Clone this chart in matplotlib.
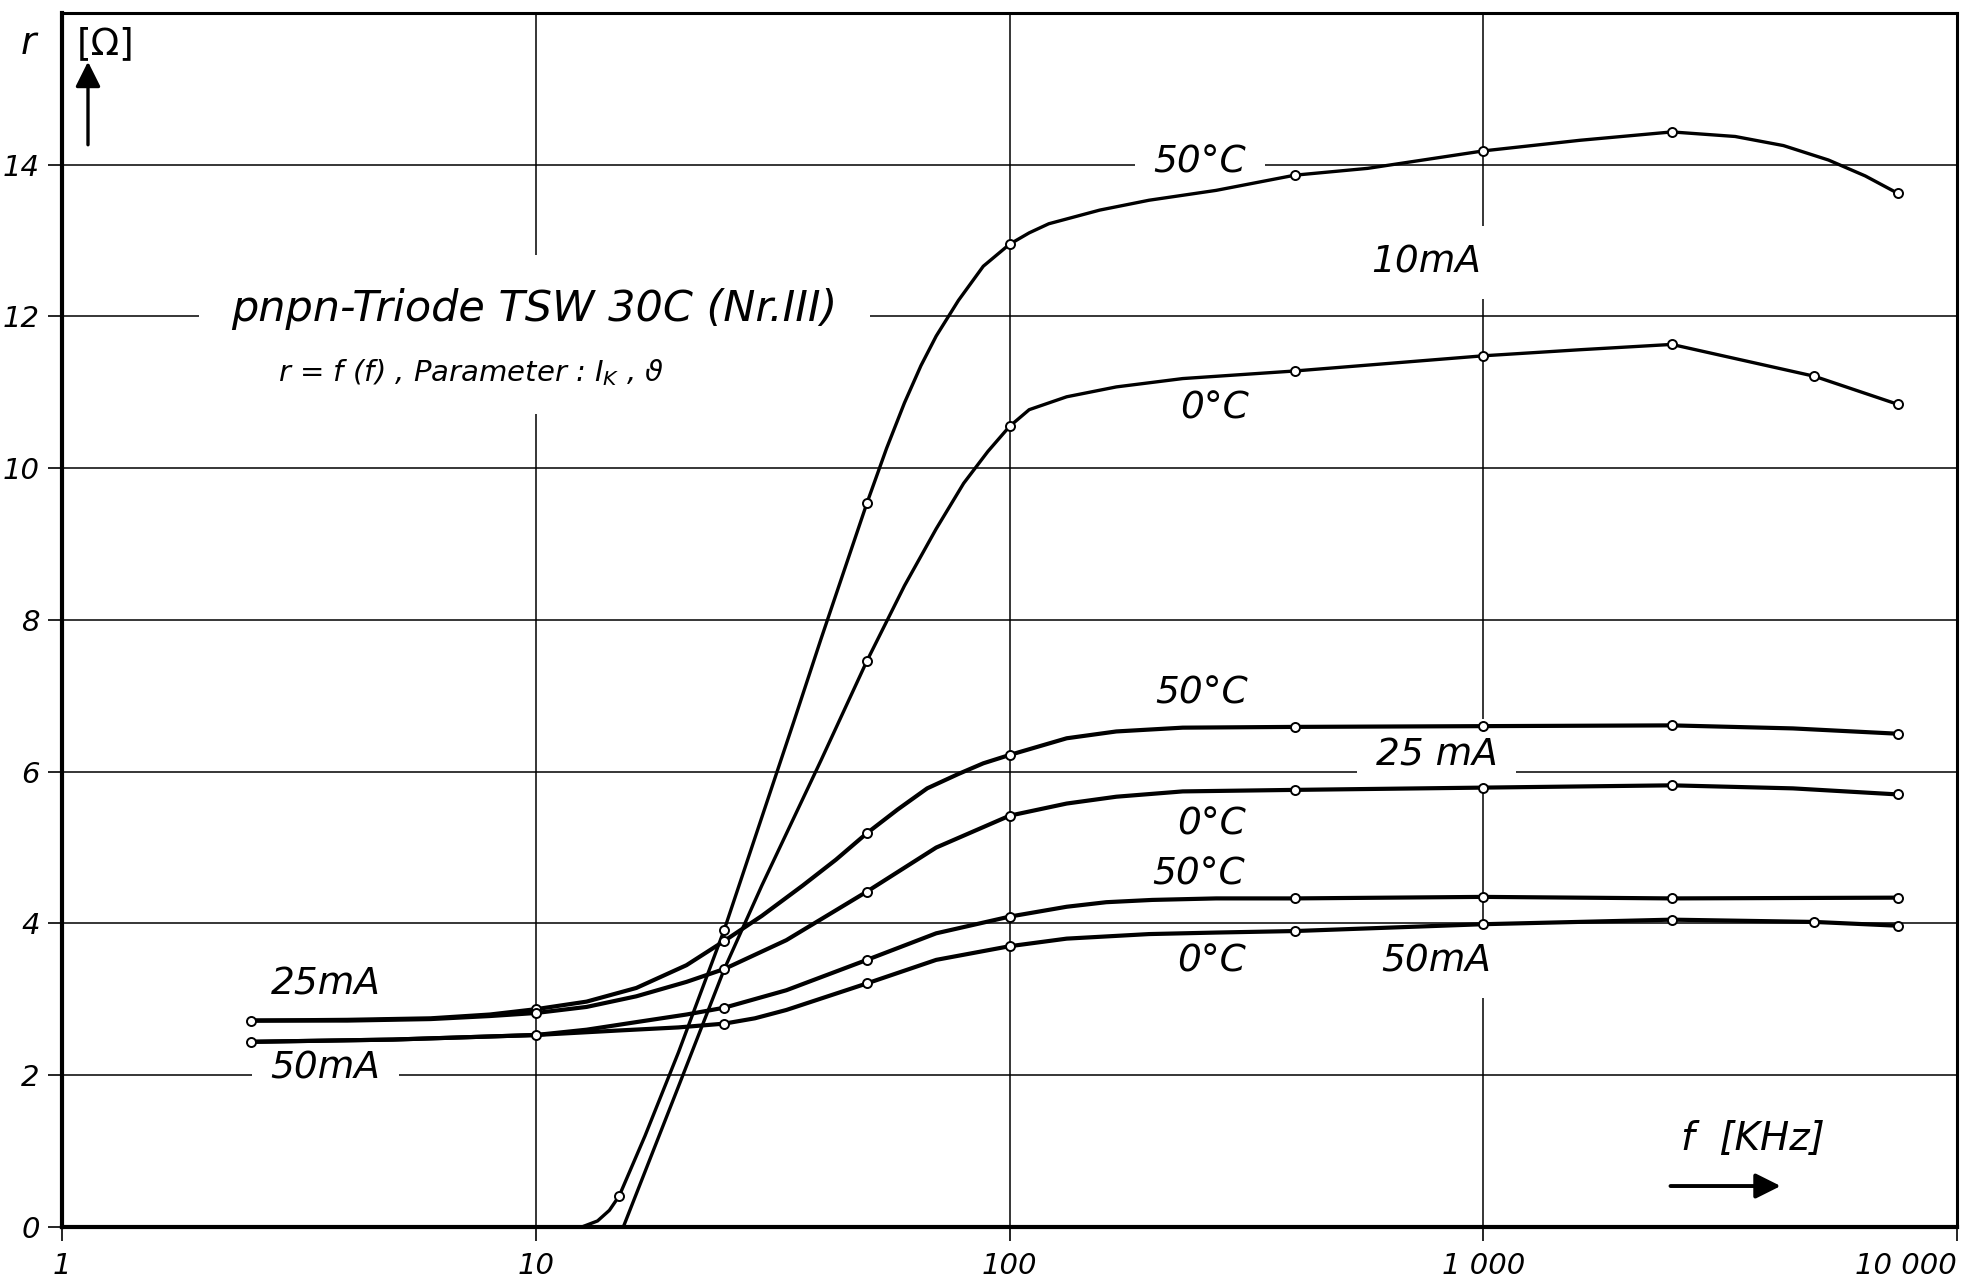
import matplotlib
matplotlib.use('Agg')
import matplotlib.pyplot as plt

# r = f(f) fuer pnpn-Triode TSW 30C, Parameter I_K und Temperatur
# Werte (f in kHz, r in Ohm)

f_10_50 = [12.5, 13.5, 14.3, 15, 17, 20, 25, 30, 35, 40, 50, 55, 60, 65, 70, 78, 88,
           100, 110, 121, 155, 197, 273, 400, 570, 1000, 1600, 2500, 3400, 4300, 5350, 6400, 7500]
r_10_50 = [0, 0.08, 0.22, 0.41, 1.2, 2.3, 3.92, 5.4, 6.65, 7.75, 9.54, 10.26, 10.86, 11.35, 11.74, 12.21, 12.66,
           12.95, 13.1, 13.22, 13.4, 13.53, 13.66, 13.86, 13.95, 14.18, 14.32, 14.43, 14.37, 14.25, 14.06, 13.85, 13.62]

f_10_0 = [15.3, 20, 25, 30, 40, 50, 60, 70, 80, 90, 100, 110, 132, 168, 232, 400, 1000, 1600, 2500, 5000, 7500]
r_10_0 = [0, 1.85, 3.4, 4.5, 6.15, 7.46, 8.45, 9.2, 9.8, 10.22, 10.55, 10.77, 10.94, 11.07, 11.18, 11.28,
          11.48, 11.56, 11.63, 11.21, 10.84]

f_25_50 = [2.5, 4, 6, 8, 10, 12.8, 16.3, 20.8, 25, 30, 36.6, 43, 50, 58, 67, 78, 88, 100, 132, 168, 232,
           400, 1000, 2500, 4500, 7500]
r_25_50 = [2.72, 2.73, 2.75, 2.8, 2.87, 2.97, 3.15, 3.45, 3.77, 4.1, 4.5, 4.84, 5.19, 5.5, 5.78, 5.97, 6.11,
           6.22, 6.44, 6.53, 6.58, 6.59, 6.6, 6.61, 6.57, 6.5]

f_25_0 = [2.5, 4, 6, 8, 10, 12.8, 16.3, 20.8, 25, 33.8, 50, 70, 100, 132, 168, 232, 400, 1000, 2500, 4500, 7500]
r_25_0 = [2.72, 2.72, 2.74, 2.78, 2.82, 2.9, 3.04, 3.23, 3.4, 3.78, 4.42, 5.0, 5.42, 5.58, 5.67, 5.74,
          5.76, 5.79, 5.82, 5.78, 5.7]

f_50_50 = [2.5, 5, 10, 12.8, 16.3, 20.8, 25, 33.8, 50, 70, 100, 132, 160, 200, 273, 400, 1000, 2500, 7500]
r_50_50 = [2.44, 2.47, 2.53, 2.6, 2.7, 2.8, 2.89, 3.12, 3.52, 3.87, 4.09, 4.22, 4.28, 4.31, 4.33, 4.33, 4.35,
           4.33, 4.34]

f_50_0 = [2.5, 5, 10, 15, 20, 25, 29, 33.8, 50, 70, 100, 132, 197, 273, 400, 1000, 2500, 5000, 7500]
r_50_0 = [2.44, 2.47, 2.53, 2.59, 2.63, 2.68, 2.75, 2.86, 3.21, 3.52, 3.7, 3.8, 3.86, 3.88, 3.9, 3.99,
          4.05, 4.02, 3.97]

# Messpunkte (Kreise)
fm_10_50 = [15, 25, 50, 100, 400, 1000, 2500, 7500]
rm_10_50 = [0.41, 3.92, 9.54, 12.95, 13.86, 14.18, 14.43, 13.62]
fm_10_0 = [50, 100, 400, 1000, 2500, 5000, 7500]
rm_10_0 = [7.46, 10.55, 11.28, 11.48, 11.63, 11.21, 10.84]
fm_25_50 = [2.5, 10, 25, 50, 100, 400, 1000, 2500, 7500]
rm_25_50 = [2.72, 2.87, 3.77, 5.19, 6.22, 6.59, 6.6, 6.61, 6.5]
fm_25_0 = [10, 25, 50, 100, 400, 1000, 2500, 7500]
rm_25_0 = [2.82, 3.4, 4.42, 5.42, 5.76, 5.79, 5.82, 5.7]
fm_50_50 = [2.5, 10, 25, 50, 100, 400, 1000, 2500, 7500]
rm_50_50 = [2.44, 2.53, 2.89, 3.52, 4.09, 4.33, 4.35, 4.33, 4.34]
fm_50_0 = [25, 50, 100, 400, 1000, 2500, 5000, 7500]
rm_50_0 = [2.68, 3.21, 3.7, 3.9, 3.99, 4.05, 4.02, 3.97]

x_ticks = [1, 10, 100, 1000, 10000]
x_labels = ['1', '10', '100', '1 000', '10 000']
y_ticks = [0, 2, 4, 6, 8, 10, 12, 14]

plt.rcParams['font.family'] = ['DejaVu Sans']
plt.rcParams['font.style'] = 'italic'

fig = plt.figure(figsize=(19.63, 12.78), dpi=100)
ax = fig.add_axes([0.0316, 0.0399, 0.9654, 0.9501])
ax.set_xscale('log')
ax.set_xlim(1, 10000)
ax.set_ylim(0, 16)

# Kurven
kurven = [(f_10_50, r_10_50, 2.4), (f_10_0, r_10_0, 2.4),
          (f_25_50, r_25_50, 3.0), (f_25_0, r_25_0, 3.0),
          (f_50_50, r_50_50, 3.0), (f_50_0, r_50_0, 3.0)]
for f, r, lw in kurven:
    ax.plot(f, r, color='black', lw=lw, zorder=3, solid_joinstyle='round')

punkte = [(fm_10_50, rm_10_50), (fm_10_0, rm_10_0), (fm_25_50, rm_25_50),
          (fm_25_0, rm_25_0), (fm_50_50, rm_50_50), (fm_50_0, rm_50_0)]
for f, r in punkte:
    ax.plot(f, r, 'o', ms=6.5, mfc='white', mec='black', mew=1.4, zorder=4)

# Achsen und Gitter
ax.set_xticks(x_ticks)
ax.set_xticklabels(x_labels)
ax.minorticks_off()
ax.set_yticks(y_ticks)
ax.grid(True, color='black', lw=1.1, zorder=0)
ax.set_axisbelow(True)
ax.tick_params(axis='both', direction='out', length=10, width=1.2, labelsize=21, pad=6)
ax.tick_params(axis='x', pad=8)
ax.get_xticklabels()[-1].set_horizontalalignment('right')
for s in ['left', 'bottom']:
    ax.spines[s].set_linewidth(3)
for s in ['top', 'right']:
    ax.spines[s].set_linewidth(2.2)

# Beschriftungen der Kurven
box = dict(facecolor='white', edgecolor='none', boxstyle='square,pad=0.5')
kw = dict(fontsize=27, ha='center', va='center', zorder=2.5, bbox=box)
ax.text(252, 14.03, '50°C', **kw)
ax.text(758, 12.71, '10mA', **kw)
ax.text(271, 10.79, '0°C', **kw)
ax.text(254, 7.03, '50°C', **kw)
ax.text(796, 6.21, '25 mA', **kw)
ax.text(267, 5.31, '0°C', **kw)
ax.text(250, 4.65, '50°C', **kw)
ax.text(267, 3.50, '0°C', **kw)
ax.text(796, 3.50, '50mA', **kw)
ax.text(3.6, 3.20, '25mA', **kw)
ax.text(3.6, 2.09, '50mA', **kw)

ax.text(2.28, 12.1, 'pnpn-Triode TSW 30C (Nr.III)', fontsize=31, ha='left', va='center',
        zorder=2.5, bbox=dict(facecolor='white', edgecolor='none', boxstyle='square,pad=0.75'))
ax.text(2.86, 11.26, r'r = f (f) , Parameter : $I_K$ , ϑ', fontsize=21, ha='left', va='center',
        zorder=2.5, bbox=dict(facecolor='white', edgecolor='none', boxstyle='square,pad=0.9'))

# Achsenbezeichnungen mit Pfeilen
ax.text(3700, 1.16, 'f  [KHz]', fontsize=28, ha='center', va='center')
ax.annotate('', xy=(4300, 0.54), xytext=(2450, 0.54),
            arrowprops=dict(arrowstyle='-|>', lw=2.8, mutation_scale=38, color='black'))
ax.text(-0.018, 0.974, 'r', transform=ax.transAxes, fontsize=27, ha='center', va='center')
ax.text(0.0232, 0.974, '[Ω]', transform=ax.transAxes, fontsize=27, ha='center', va='center',
        style='normal')
ax.annotate('', xy=(0.0137, 0.962), xytext=(0.0137, 0.889), xycoords='axes fraction',
            arrowprops=dict(arrowstyle='-|>', lw=2.4, mutation_scale=38, color='black'))

fig.savefig('out.png', dpi=100)
